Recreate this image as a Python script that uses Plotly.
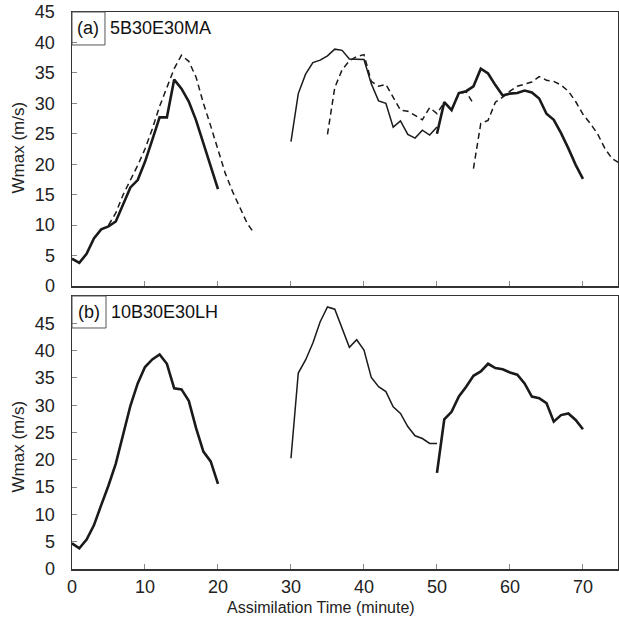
import plotly.graph_objects as go

# ---------------- data ----------------
# Panel (a) 5B30E30MA
a_solid1_t = [0, 1, 2, 3, 4, 5, 6, 7, 8, 9, 10, 11, 12, 13, 14, 15, 16, 17, 18, 19, 20]
a_solid1_w = [4.5, 3.8, 5.3, 7.8, 9.3, 9.8, 10.6, 13.3, 16.2, 17.4, 20.4, 24.0, 27.7, 27.7, 33.9, 32.4, 30.3, 27.2, 23.4, 19.5, 15.9]

a_solid2_t = [30, 31, 32, 33, 34, 35, 36, 37, 38, 39, 40, 41, 42, 43, 44, 45, 46, 47, 48, 49, 50]
a_solid2_w = [23.7, 31.6, 34.8, 36.7, 37.1, 37.8, 38.9, 38.7, 37.3, 37.3, 37.2, 33.2, 30.4, 30.0, 26.1, 27.1, 24.9, 24.3, 25.6, 24.8, 26.1]

a_solid3_t = [50, 51, 52, 53, 54, 55, 56, 57, 58, 59, 60, 61, 62, 63, 64, 65, 66, 67, 68, 69, 70]
a_solid3_w = [25.0, 30.2, 28.9, 31.7, 32.0, 32.8, 35.7, 34.9, 33.0, 31.3, 31.6, 31.7, 32.1, 31.8, 30.8, 28.3, 27.3, 25.1, 22.6, 19.9, 17.6]

a_dash1_t = [5, 6, 7, 8, 9, 10, 11, 12, 13, 14, 15, 16, 17, 18, 19, 20, 21, 22, 23, 24, 25]
a_dash1_w = [10.0, 12.0, 15.0, 17.3, 19.8, 22.5, 25.8, 29.5, 32.7, 35.7, 37.9, 36.9, 34.3, 30.0, 26.3, 22.5, 18.5, 15.5, 12.8, 10.3, 8.6]

a_dash2_t = [35, 36, 37, 38, 39, 40, 41, 42, 43, 44, 45, 46, 47, 48, 49, 50, 51, 52, 53, 54, 55]
a_dash2_w = [24.9, 32.6, 35.5, 37.0, 37.7, 38.0, 33.6, 32.8, 33.1, 31.0, 28.9, 28.7, 28.0, 27.3, 29.3, 28.3, 30.2, 29.0, 31.6, 31.9, 29.9]

a_dash3_t = [55, 56, 57, 58, 59, 60, 61, 62, 63, 64, 65, 66, 67, 68, 69, 70, 71, 72, 73, 74, 75]
a_dash3_w = [19.3, 26.7, 27.2, 30.2, 31.0, 32.0, 32.8, 33.2, 33.5, 34.4, 33.8, 33.6, 33.0, 32.0, 30.3, 28.2, 26.7, 25.0, 22.6, 20.9, 20.2]

# Panel (b) 10B30E30LH
b_seg1_t = [0, 1, 2, 3, 4, 5, 6, 7, 8, 9, 10, 11, 12, 13, 14, 15, 16, 17, 18, 19, 20]
b_seg1_w = [4.7, 3.8, 5.4, 8.0, 11.7, 15.3, 19.3, 24.8, 29.9, 34.0, 37.0, 38.4, 39.3, 37.6, 33.1, 32.9, 30.8, 25.8, 21.5, 19.7, 15.6]

b_seg2_t = [30, 31, 32, 33, 34, 35, 36, 37, 38, 39, 40, 41, 42, 43, 44, 45, 46, 47, 48, 49, 50]
b_seg2_w = [20.3, 35.9, 38.3, 41.4, 45.3, 48.0, 47.6, 44.1, 40.6, 42.0, 40.1, 35.1, 33.4, 32.5, 29.7, 28.5, 26.1, 24.4, 23.9, 23.0, 23.0]

b_seg3_t = [50, 51, 52, 53, 54, 55, 56, 57, 58, 59, 60, 61, 62, 63, 64, 65, 66, 67, 68, 69, 70]
b_seg3_w = [17.6, 27.4, 28.8, 31.6, 33.4, 35.4, 36.2, 37.6, 36.8, 36.6, 36.0, 35.6, 34.0, 31.6, 31.3, 30.4, 27.0, 28.2, 28.5, 27.3, 25.6]

x_ticks = [0, 10, 20, 30, 40, 50, 60, 70]
y_ticks = [0, 5, 10, 15, 20, 25, 30, 35, 40, 45]
panel_a_label = "(a)"
panel_a_name = "5B30E30MA"
panel_b_label = "(b)"
panel_b_name = "10B30E30LH"
y_title = "Wmax (m/s)"
x_title = "Assimilation Time (minute)"

# ---------------- figure ----------------
INK = "#1a1a1a"
THICK = 2.6
THIN = 1.5
DASH = "6px,4px"

fig = go.Figure()

def add(t, w, width, dash, xa, ya):
    fig.add_trace(go.Scatter(x=t, y=w, mode="lines",
                             line=dict(color=INK, width=width, dash=dash),
                             xaxis=xa, yaxis=ya, showlegend=False, hoverinfo="skip"))

# top panel
add(a_solid1_t, a_solid1_w, THICK, "solid", "x", "y")
add(a_solid2_t, a_solid2_w, THIN, "solid", "x", "y")
add(a_solid3_t, a_solid3_w, THICK, "solid", "x", "y")
add(a_dash1_t, a_dash1_w, THIN, DASH, "x", "y")
add(a_dash2_t, a_dash2_w, THIN, DASH, "x", "y")
add(a_dash3_t, a_dash3_w, THIN, DASH, "x", "y")
# bottom panel
add(b_seg1_t, b_seg1_w, THICK, "solid", "x2", "y2")
add(b_seg2_t, b_seg2_w, THIN, "solid", "x2", "y2")
add(b_seg3_t, b_seg3_w, THICK, "solid", "x2", "y2")

FONT = "Liberation Sans, Arial, Helvetica, sans-serif"
tickfont = dict(family=FONT, size=18, color="#222")

axis_common = dict(showline=True, linecolor="#333", linewidth=1.5, mirror=True,
                   ticks="inside", ticklen=5, tickcolor="#888", tickwidth=1,
                   showgrid=False, zeroline=False, tickfont=tickfont, automargin=False,
                   ticklabeloverflow="allow")

fig.update_layout(
    width=619, height=623,
    margin=dict(l=72, r=1, t=12, b=54, autoexpand=False),
    paper_bgcolor="white", plot_bgcolor="white",
    xaxis=dict(domain=[0, 1], range=[0, 74.8], anchor="y", tickvals=x_ticks,
               showticklabels=False, **axis_common),
    yaxis=dict(domain=[0.508, 1], range=[0, 45], anchor="x", tickvals=y_ticks,
               ticklabelstandoff=12, **axis_common),
    xaxis2=dict(domain=[0, 1], range=[0, 74.8], anchor="y2", tickvals=x_ticks,
                ticklabelstandoff=1, **axis_common),
    yaxis2=dict(domain=[0, 0.490], range=[0, 50], anchor="x2", tickvals=y_ticks,
                ticklabelstandoff=12, **axis_common),
)

# panel label boxes
fig.add_shape(type="rect", xref="paper", yref="paper", x0=0, x1=0.0604, y0=0.9408, y1=1.0,
              line=dict(color="#555", width=1))
fig.add_shape(type="rect", xref="paper", yref="paper", x0=0, x1=0.0623, y0=0.4327, y1=0.4901,
              line=dict(color="#555", width=1))

lab_font = dict(family=FONT, size=18, color="#111")
fig.add_annotation(text=panel_a_label, xref="paper", yref="paper", x=0.0302, y=0.9704,
                   xanchor="center", yanchor="middle", showarrow=False, font=lab_font)
fig.add_annotation(text=panel_a_name, xref="paper", yref="paper", x=0.066, y=0.9704,
                   xanchor="left", yanchor="middle", showarrow=False, font=lab_font)
fig.add_annotation(text=panel_b_label, xref="paper", yref="paper", x=0.0311, y=0.4614,
                   xanchor="center", yanchor="middle", showarrow=False, font=lab_font)
fig.add_annotation(text=panel_b_name, xref="paper", yref="paper", x=0.068, y=0.4614,
                   xanchor="left", yanchor="middle", showarrow=False, font=lab_font)

# axis titles
ytf = dict(family=FONT, size=17, color="#222")
fig.add_annotation(text=y_title, xref="paper", yref="paper", x=(17.5 - 72) / 546, y=(569 - 148) / 557,
                   xanchor="center", yanchor="middle", textangle=-90, showarrow=False, font=ytf)
fig.add_annotation(text=y_title, xref="paper", yref="paper", x=(17.5 - 72) / 546, y=(569 - 447) / 557,
                   xanchor="center", yanchor="middle", textangle=-90, showarrow=False, font=ytf)
fig.add_annotation(text=x_title, xref="paper", yref="paper", x=(321 - 72) / 546, y=(569 - 607) / 557,
                   xanchor="center", yanchor="middle", showarrow=False,
                   font=dict(family=FONT, size=16, color="#222"))

# remove the default 8 px body margin so the figure fills the window exactly
fig.write_html("out.html",
               config={"displayModeBar": False, "staticPlot": True},
               post_script="document.body.style.margin='0';document.body.style.overflow='hidden';")
